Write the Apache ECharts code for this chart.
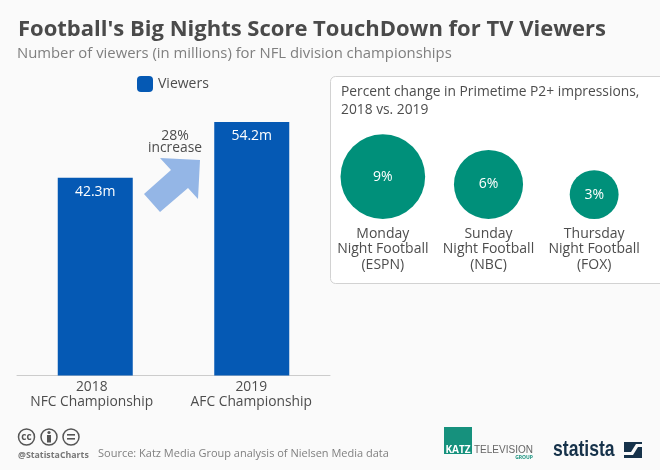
<!DOCTYPE html>
<html>
<head>
<meta charset="utf-8">
<style>html,body{margin:0;padding:0;background:#fafafa}#c{width:660px;height:470px}</style>
<script src="https://cdn.jsdelivr.net/npm/echarts@6/dist/echarts.min.js"></script>
</head>
<body>
<div id="c"></div>
<script>
var barCategories = ['2018\nNFC Championship', '2019\nAFC Championship'];
var viewers = [42.3, 54.2];
var bubbleCategories = ['Monday\nNight Football\n(ESPN)', 'Sunday\nNight Football\n(NBC)', 'Thursday\nNight Football\n(FOX)'];
var bubbleValues = [9, 6, 3];

var FONT = '"Open Sans", sans-serif';
var GREY = '#4d4d4d';
function bubbleSize(v) { return 2 * Math.sqrt(v * 199); }

function ccIcon(cx, kind) {
  var items = [{ type: 'circle', shape: { cx: cx, cy: 437, r: 8 }, style: { fill: 'none', stroke: '#555', lineWidth: 1.5 } }];
  if (kind === 'cc') items.push({ type: 'text', style: { x: cx, y: 437, text: 'cc', align: 'center', verticalAlign: 'middle', font: 'bold 10px ' + FONT, fill: '#555' } });
  if (kind === 'by') items.push(
    { type: 'circle', shape: { cx: cx, cy: 432.5, r: 1.6 }, style: { fill: '#555' } },
    { type: 'rect', shape: { x: cx - 2, y: 435, width: 4, height: 7.5 }, style: { fill: '#555' } });
  if (kind === 'eq') items.push(
    { type: 'rect', shape: { x: cx - 4, y: 434, width: 8, height: 1.6 }, style: { fill: '#555' } },
    { type: 'rect', shape: { x: cx - 4, y: 438, width: 8, height: 1.6 }, style: { fill: '#555' } });
  return items;
}

var graphics = [
  { type: 'rect', z: 0, shape: { x: 330.5, y: 76.5, width: 345, height: 207, r: 5 }, style: { fill: '#fff', stroke: '#d2d2d2', lineWidth: 1 } },
  { type: 'polygon', z: 1, shape: { points: [[200,160],[198,199],[188,188],[160,212],[144,194],[171,170],[160,158]] }, style: { fill: '#94b6e6' } },
  { type: 'text', z: 2, style: { x: 175, y: 136, text: '28%', align: 'center', verticalAlign: 'middle', font: '14px ' + FONT, fill: GREY } },
  { type: 'text', z: 2, style: { x: 175, y: 148, text: 'increase', align: 'center', verticalAlign: 'middle', font: '13.8px ' + FONT, fill: GREY } },
  { type: 'text', z: 2, style: { x: 341, y: 92, text: 'Percent change in Primetime P2+ impressions,', verticalAlign: 'middle', font: '13.8px ' + FONT, fill: GREY } },
  { type: 'text', z: 2, style: { x: 341, y: 110, text: '2018 vs. 2019', verticalAlign: 'middle', font: '13.8px ' + FONT, fill: GREY } },
  { type: 'text', z: 2, style: { x: 18, y: 455, text: '@StatistaCharts', verticalAlign: 'middle', font: 'bold 8.8px ' + FONT, fill: '#777' } },
  { type: 'text', z: 2, style: { x: 98, y: 454, text: 'Source: Katz Media Group analysis of Nielsen Media data', verticalAlign: 'middle', font: '11px ' + FONT, fill: '#808080' } },
  { type: 'rect', z: 2, shape: { x: 444, y: 427, width: 28, height: 27 }, style: { fill: '#16917d' } },
  { type: 'text', z: 3, style: { x: 458, y: 450, text: 'KATZ', align: 'center', verticalAlign: 'middle', font: 'bold 10px ' + FONT, fill: '#fff' } },
  { type: 'text', z: 3, style: { x: 474, y: 450, text: 'TELEVISION', verticalAlign: 'middle', font: '10px "Liberation Sans", sans-serif', fill: '#666' } },
  { type: 'text', z: 3, style: { x: 533, y: 457.5, text: 'GROUP', align: 'right', verticalAlign: 'middle', font: 'bold 5px ' + FONT, fill: '#16917d' } },
  { type: 'text', z: 3, x: 553, y: 450, scaleX: 0.8, originX: 0, style: { x: 0, y: 0, text: 'statista', verticalAlign: 'middle', font: 'bold 22px "Liberation Sans", sans-serif', fill: '#16324a' } },
  { type: 'rect', z: 3, shape: { x: 624, y: 442, width: 18, height: 16 }, style: { fill: '#16324a' } },
  { type: 'polygon', z: 4, shape: { points: [[624,452],[631,452],[636,444],[642,444],[642,447],[638,447],[633,455],[624,455]] }, style: { fill: '#fafafa' } }
].concat(ccIcon(26.5, 'cc'), ccIcon(49, 'by'), ccIcon(71, 'eq'));

var option = {
  animation: false,
  backgroundColor: '#fafafa',
  textStyle: { fontFamily: FONT },
  title: [
    { text: "Football's Big Nights Score TouchDown for TV Viewers", left: 13, top: 14, textStyle: { fontFamily: FONT, fontSize: 22, fontWeight: 'bold', color: '#4a4a4a' } },
    { text: 'Number of viewers (in millions) for NFL division championships', left: 12, top: 41, textStyle: { fontFamily: FONT, fontSize: 14.85, fontWeight: 'normal', color: '#7f7f7f' } }
  ],
  legend: {
    data: ['Viewers'], left: 132, top: 71, itemWidth: 16, itemHeight: 16, itemGap: 6,
    icon: 'roundRect',
    textStyle: { fontFamily: FONT, fontSize: 14, color: GREY }
  },
  grid: [
    { left: 17, top: 95, width: 313, height: 280.5 },
    { left: 330, top: 100, width: 317, height: 119 }
  ],
  xAxis: [
    { type: 'category', gridIndex: 0,
      data: [{ value: barCategories[0], textStyle: { padding: [0, 7, 0, 0] } }, { value: barCategories[1], textStyle: { padding: [0, 1, 0, 0] } }],
      axisTick: { show: false },
      axisLine: { lineStyle: { color: '#ccc', width: 1 } },
      axisLabel: { color: GREY, fontFamily: FONT, fontSize: 13.8, lineHeight: 15, margin: 4, interval: 0 } },
    { type: 'category', gridIndex: 1, data: bubbleCategories, axisTick: { show: false }, axisLine: { show: false },
      axisLabel: { color: GREY, fontFamily: FONT, fontSize: 14, lineHeight: 15.5, margin: 7, interval: 0 } }
  ],
  yAxis: [
    { type: 'value', gridIndex: 0, min: 0, max: 60, show: false },
    { type: 'value', gridIndex: 1, min: 0, max: 1, show: false }
  ],
  series: [
    { name: 'Viewers', type: 'bar', xAxisIndex: 0, yAxisIndex: 0, data: viewers, barWidth: 75,
      itemStyle: { color: '#0559b4' },
      label: { show: true, position: 'insideTop', distance: 7, color: '#fff', fontFamily: FONT, fontSize: 14,
        formatter: function (p) { return p.value + 'm'; } } },
    { type: 'scatter', xAxisIndex: 1, yAxisIndex: 1, z: 5,
      data: bubbleValues.map(function (v, i) {
        var s = bubbleSize(v);
        return { value: [bubbleCategories[i], 0, v], symbolSize: s, symbolOffset: [0, -s / 2] };
      }),
      itemStyle: { color: '#00907a', opacity: 1 },
      label: { show: true, position: 'inside', color: '#fff', fontFamily: FONT, fontSize: 14,
        formatter: function (p) { return p.value[2] + '%'; } } }
  ],
  graphic: { elements: graphics }
};
echarts.init(document.getElementById('c'), null, { renderer: 'canvas' }).setOption(option);
</script>
</body>
</html>
